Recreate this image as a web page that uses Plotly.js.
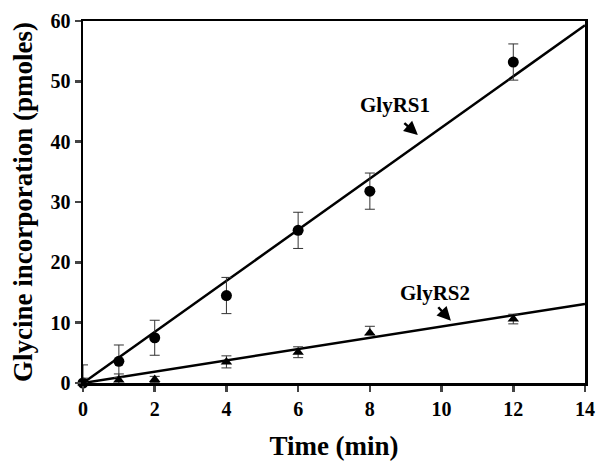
<!DOCTYPE html>
<html><head><meta charset="utf-8">
<script src="https://cdn.plot.ly/plotly-3.0.1.min.js"></script>
<style>body{margin:0;background:#fff}#c{width:600px;height:461px}</style>
</head><body><div id="c"></div>
<script>
const time = [0, 1, 2, 4, 6, 8, 12];
const glyrs1 = [0, 3.6, 7.5, 14.5, 25.3, 31.8, 53.2];
const glyrs1Err = [3, 2.7, 2.9, 3.0, 3.0, 3.0, 3.0];
const glyrs1ErrMinus = [0, 2.7, 2.9, 3.0, 3.0, 3.0, 3.0];
const glyrs2 = [0, 0.5, 0.6, 3.5, 5.1, 8.3, 10.6];
const glyrs2Err = [0.8, 1.0, 0.5, 1.0, 0.9, 1.1, 0.8];
const glyrs2ErrMinus = [0, 1.0, 0.5, 1.0, 0.9, 0.3, 0.8];
const fitX = [0, 14];
const fit1Y = [0, 59.3];
const fit2Y = [0, 13.1];

const F = '"Liberation Serif", "Times New Roman", Times, serif';
const traces = [
  {x: fitX, y: fit1Y, mode: 'lines', line: {color: '#000', width: 2.5}, hoverinfo: 'skip', cliponaxis: false},
  {x: fitX, y: fit2Y, mode: 'lines', line: {color: '#000', width: 2.5}, hoverinfo: 'skip', cliponaxis: false},
  {x: time, y: glyrs1, mode: 'markers', marker: {symbol: 'circle', size: 11, color: '#000'},
   error_y: {type: 'data', array: glyrs1Err, arrayminus: glyrs1ErrMinus, color: '#333', thickness: 1, width: 5}, cliponaxis: false},
  {x: time, y: glyrs2, mode: 'markers', marker: {symbol: 'triangle-up', size: 10, color: '#000'},
   error_y: {type: 'data', array: glyrs2Err, arrayminus: glyrs2ErrMinus, color: '#333', thickness: 1, width: 5}, cliponaxis: false}
];
const layout = {
  width: 600, height: 461, showlegend: false,
  paper_bgcolor: '#fff', plot_bgcolor: '#fff',
  margin: {l: 83, r: 15, t: 21, b: 78},
  font: {family: F, color: '#000'},
  xaxis: {range: [0, 14], tickvals: [0,2,4,6,8,10,12,14], ticks: 'outside', ticklen: 6, tickwidth: 2.5,
    showline: true, linewidth: 2.5, linecolor: '#000', mirror: true, showgrid: false, zeroline: false,
    tickfont: {family: F, size: 20, weight: 'bold'},
    title: {text: 'Time (min)', font: {family: F, size: 27, weight: 'bold'}, standoff: 20}},
  yaxis: {range: [0, 60], tickvals: [0,10,20,30,40,50,60], ticks: 'outside', ticklen: 6, tickwidth: 2.5,
    showline: true, linewidth: 2.5, linecolor: '#000', mirror: true, showgrid: false, zeroline: false,
    tickfont: {family: F, size: 20, weight: 'bold'},
    title: {text: 'Glycine incorporation (pmoles)', font: {family: F, size: 27, weight: 'bold'}, standoff: 10}},
  annotations: [
    {x: 8.7, y: 46.1, xref: 'x', yref: 'y', text: 'GlyRS1', showarrow: false, font: {family: F, size: 21, weight: 'bold'}},
    {x: 9.82, y: 15.0, xref: 'x', yref: 'y', text: 'GlyRS2', showarrow: false, font: {family: F, size: 21, weight: 'bold'}},
    {x: 9.34, y: 41.1, ax: 8.92, ay: 43.3, xref: 'x', yref: 'y', axref: 'x', ayref: 'y', text: '', showarrow: true, arrowhead: 2, arrowsize: 1.1, arrowwidth: 2.5, arrowcolor: '#000'},
    {x: 10.26, y: 10.3, ax: 9.87, ay: 12.8, xref: 'x', yref: 'y', axref: 'x', ayref: 'y', text: '', showarrow: true, arrowhead: 2, arrowsize: 1.1, arrowwidth: 2.5, arrowcolor: '#000'}
  ]
};
Plotly.newPlot('c', traces, layout, {displayModeBar: false, staticPlot: true});
</script></body></html>
